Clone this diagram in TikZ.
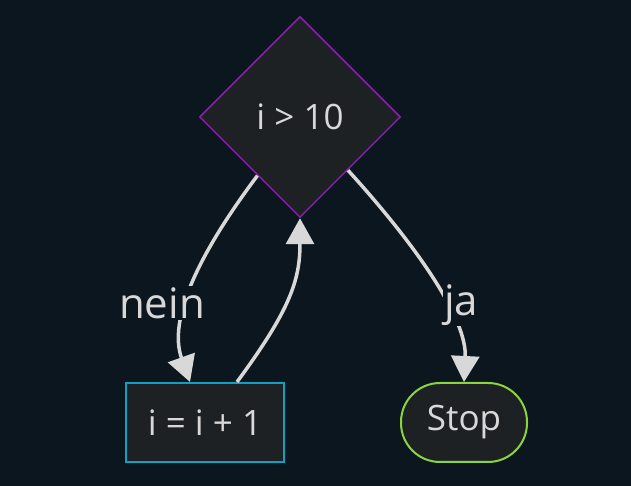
\documentclass[tikz,border=0pt]{standalone}
\usepackage{fontspec}
\setmainfont{Open Sans}
\usetikzlibrary{positioning,arrows.meta}
\usetikzlibrary{shapes.geometric}

\definecolor{bgc}{RGB}{11,22,30}
\definecolor{nodefill}{RGB}{30,33,36}
\definecolor{txt}{RGB}{216,216,216}
\definecolor{lila}{RGB}{137,30,175}
\definecolor{cyanb}{RGB}{16,160,192}
\definecolor{gruen}{RGB}{139,212,60}

\begin{document}
\begin{tikzpicture}[x=1pt,y=1pt,>={Triangle[length=26pt,width=28pt]},
  every node/.style={text=txt,font=\fontsize{35}{40}\selectfont},
  cond/.style={diamond,draw=lila,line width=1.5pt,fill=nodefill,aspect=1,minimum size=201pt,inner sep=0pt},
  stepbox/.style={draw=cyanb,line width=2pt,fill=nodefill,minimum width=158pt,minimum height=79pt},
  stopbox/.style={draw=gruen,line width=2pt,fill=nodefill,rounded corners=39pt,minimum width=126pt,minimum height=79pt},
  flow/.style={draw=txt,line width=3.5pt},
  lbl/.style={fill=bgc,inner sep=1pt,font=\fontsize{42}{48}\selectfont}]
  \fill[bgc] (0,0) rectangle (631,486);
  \useasboundingbox (0,0) rectangle (631,486);

  \node[cond] (dec) at (300,369) {i > 10};
  \node[stepbox] (inc) at (205,63.5) {i = i + 1};
  \node[stopbox,right=115pt of inc] (stop) {Stop};

  \draw[flow,->] (dec.234) .. controls +(-60,-80) and +(-22,62) .. ([xshift=-15pt]inc.north);
  \draw[flow,->] ([xshift=32pt]inc.north) .. controls +(53,72) and +(0,-62) .. (dec.south);
  \draw[flow,->] (dec.312) .. controls +(71,-78) and +(3,62) .. (stop.north);

  % edge labels
  \node[lbl] (lnein) at (162,183) {nein};
  \node[lbl] (lja) at (461,181) {ja};
\end{tikzpicture}
\end{document}
